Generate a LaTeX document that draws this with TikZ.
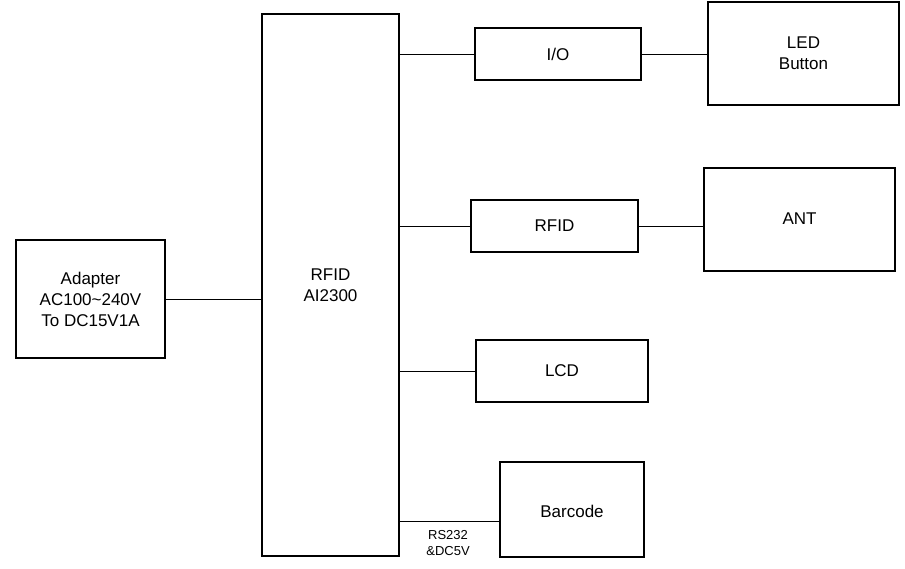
\documentclass[tikz,border=0pt]{standalone}
\usepackage{fontspec}
\setmainfont{Liberation Sans}
\begin{document}
\begin{tikzpicture}[x=1pt,y=-1pt,
    blk/.style={draw,line width=1.6pt,align=center,font=\fontsize{17}{20}\selectfont},
    wire/.style={line width=0.6pt}]
  \useasboundingbox (0,0) rectangle (905,569);
  % blocks: (left,top) rectangle (right,bottom)
  \draw[blk] (16,240) rectangle (165,358);
  \node[align=center,font=\fontsize{17}{21}\selectfont] (ad) at (90.5,299) {Adapter\\AC100\textasciitilde240V\\To DC15V1A};
  \draw[blk] (262,14) rectangle (399,556);
  \node[align=center,font=\fontsize{17}{21}\selectfont] (mc) at (330.5,285) {RFID\\AI2300};
  \draw[blk] (475,28) rectangle (641,80);
  \node[font=\fontsize{17}{20}\selectfont] (io) at (558,54) {I/O};
  \draw[blk] (708,2) rectangle (899,105);
  \node[align=center,font=\fontsize{17}{21}\selectfont] (led) at (803.5,53) {LED\\Button};
  \draw[blk] (471,200) rectangle (638,252);
  \node[font=\fontsize{17}{20}\selectfont] (rf) at (554.5,226) {RFID};
  \draw[blk] (704,168) rectangle (895,271);
  \node[font=\fontsize{17}{20}\selectfont] (ant) at (799.5,219) {ANT};
  \draw[blk] (476,340) rectangle (648,402);
  \node[font=\fontsize{17}{20}\selectfont] (lcd) at (562,371) {LCD};
  \draw[blk] (500,462) rectangle (644,557);
  \node[font=\fontsize{17}{20}\selectfont] (bc) at (572,511) {Barcode};
  % connector end points on box edges
  \coordinate (adR) at (165,299);  \coordinate (mcL) at (262,299);
  \coordinate (m1) at (399,54);    \coordinate (ioL) at (475,54);
  \coordinate (ioR) at (641,54);   \coordinate (ledL) at (708,54);
  \coordinate (m2) at (399,226);   \coordinate (rfL) at (471,226);
  \coordinate (rfR) at (638,226);  \coordinate (antL) at (704,226);
  \coordinate (m3) at (399,371);   \coordinate (lcdL) at (476,371);
  \coordinate (m4) at (399,521);   \coordinate (bcL) at (500,521);
  \draw[wire] (adR) -- (mcL);
  \draw[wire] (m1) -- (ioL);
  \draw[wire] (ioR) -- (ledL);
  \draw[wire] (m2) -- (rfL);
  \draw[wire] (rfR) -- (antL);
  \draw[wire] (m3) -- (lcdL);
  \draw[wire] (m4) -- (bcL);
  \node[align=center,font=\fontsize{13}{16}\selectfont] (lbl) at (448,543) {RS232\\\&DC5V};
\end{tikzpicture}
\end{document}
